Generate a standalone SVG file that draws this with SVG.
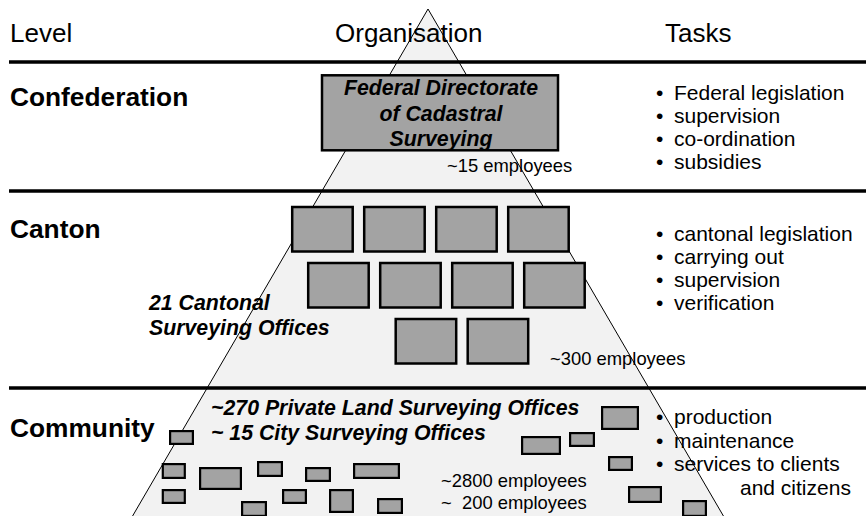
<svg xmlns="http://www.w3.org/2000/svg" width="866" height="516" viewBox="0 0 866 516">
  <style>
    text { font-family: "Liberation Sans", Arial, sans-serif; fill: #000; }
    .head { font-size: 26px; }
    .level { font-size: 26.3px; font-weight: bold; }
    .task { font-size: 21px; }
    .emp { font-size: 18.4px; white-space: pre; }
    .name { font-size: 21.3px; font-weight: bold; font-style: italic; }
    .rule { stroke: #000; stroke-width: 3.5; }
    .office { fill: #a3a3a3; stroke: #000; stroke-width: 2.5; }
    .small { fill: #a3a3a3; stroke: #000; stroke-width: 2.2; }
  </style>

  <rect width="866" height="516" fill="#fff"/>

  <!-- organisation pyramid -->
  <g id="pyramid">
    <polygon points="428,9 132,517 724,517" fill="#f2f2f2" stroke="#000" stroke-width="1"/>
  </g>

  <!-- column headings -->
  <g id="headings">
    <text class="head" x="10" y="42">Level</text>
    <text class="head" x="335" y="42">Organisation</text>
    <text class="head" x="665" y="42">Tasks</text>
  </g>

  <!-- level separators -->
  <g id="separators">
    <line class="rule" x1="9" y1="62" x2="866" y2="62"/>
    <line class="rule" x1="9" y1="191" x2="866" y2="191"/>
    <line class="rule" x1="9" y1="388" x2="866" y2="388"/>
  </g>

  <!-- level: confederation -->
  <g id="confederation">
    <text class="level" x="10" y="106">Confederation</text>
    <g id="federal-directorate">
      <rect class="office" x="322" y="75.3" width="236" height="75"/>
      <text class="name" text-anchor="middle" x="441" y="95">Federal Directorate</text>
      <text class="name" text-anchor="middle" x="441" y="121">of Cadastral</text>
      <text class="name" text-anchor="middle" x="441" y="146">Surveying</text>
    </g>
    <text class="emp" x="447" y="172">~15 employees</text>
    <g id="tasks-confederation">
      <text class="task" x="656" y="100">•</text>
      <text class="task" x="674" y="100">Federal legislation</text>
      <text class="task" x="656" y="123">•</text>
      <text class="task" x="674" y="123">supervision</text>
      <text class="task" x="656" y="146">•</text>
      <text class="task" x="674" y="146">co-ordination</text>
      <text class="task" x="656" y="169">•</text>
      <text class="task" x="674" y="169">subsidies</text>
    </g>
  </g>

  <!-- level: canton -->
  <g id="canton">
    <text class="level" x="10" y="238">Canton</text>
    <g id="cantonal-offices">
      <rect class="office" x="292.2" y="207" width="60.5" height="44.5"/>
      <rect class="office" x="364.2" y="207" width="60.5" height="44.5"/>
      <rect class="office" x="436.2" y="207" width="60.5" height="44.5"/>
      <rect class="office" x="508.2" y="207" width="60.5" height="44.5"/>
      <rect class="office" x="308.2" y="263" width="60.5" height="44.5"/>
      <rect class="office" x="380.2" y="263" width="60.5" height="44.5"/>
      <rect class="office" x="452.2" y="263" width="60.5" height="44.5"/>
      <rect class="office" x="524.2" y="263" width="60.5" height="44.5"/>
      <rect class="office" x="395.7" y="319" width="60.5" height="44.5"/>
      <rect class="office" x="467.7" y="319" width="60.5" height="44.5"/>
    </g>
    <text class="name" x="149" y="310">21 Cantonal</text>
    <text class="name" x="149" y="335">Surveying Offices</text>
    <text class="emp" x="550" y="365">~300 employees</text>
    <g id="tasks-canton">
      <text class="task" x="656" y="241">•</text>
      <text class="task" x="674" y="241">cantonal legislation</text>
      <text class="task" x="656" y="264">•</text>
      <text class="task" x="674" y="264">carrying out</text>
      <text class="task" x="656" y="287">•</text>
      <text class="task" x="674" y="287">supervision</text>
      <text class="task" x="656" y="310">•</text>
      <text class="task" x="674" y="310">verification</text>
    </g>
  </g>

  <!-- level: community -->
  <g id="community">
    <text class="level" x="10" y="437">Community</text>
    <g id="community-offices">
      <rect class="small" x="170.1" y="431.1" width="22.8" height="12.8"/>
      <rect class="small" x="162.8" y="464.1" width="22" height="13.8"/>
      <rect class="small" x="200.1" y="468.1" width="40.8" height="20.8"/>
      <rect class="small" x="258.1" y="462.1" width="23.8" height="13.8"/>
      <rect class="small" x="162.8" y="490.1" width="22" height="12.8"/>
      <rect class="small" x="242.1" y="502.1" width="23.8" height="13.8"/>
      <rect class="small" x="283.1" y="490.1" width="22.8" height="12.8"/>
      <rect class="small" x="306.1" y="468.1" width="23.8" height="12.8"/>
      <rect class="small" x="354.1" y="464.1" width="44.8" height="13.8"/>
      <rect class="small" x="330.1" y="490.1" width="22.8" height="21.8"/>
      <rect class="small" x="378.1" y="499.1" width="23.8" height="13.8"/>
      <rect class="small" x="602.1" y="407.1" width="35.8" height="21.8"/>
      <rect class="small" x="570.1" y="433.1" width="23.8" height="12.8"/>
      <rect class="small" x="522.1" y="437.1" width="37.8" height="16.8"/>
      <rect class="small" x="609.1" y="457.1" width="22.8" height="12.8"/>
      <rect class="small" x="629.1" y="487.1" width="31.8" height="14.8"/>
      <rect class="small" x="683.1" y="501.1" width="22.8" height="14.8"/>
    </g>
    <text class="name" x="211" y="415">~270 Private Land Surveying Offices</text>
    <text class="name" x="211" y="440">~ 15 City Surveying Offices</text>
    <text class="emp" x="441" y="487">~2800 employees</text>
    <text class="emp" x="441" y="509">~  200 employees</text>
    <g id="tasks-community">
      <text class="task" x="656" y="424">•</text>
      <text class="task" x="674" y="424">production</text>
      <text class="task" x="656" y="448">•</text>
      <text class="task" x="674" y="448">maintenance</text>
      <text class="task" x="656" y="471">•</text>
      <text class="task" x="674" y="471">services to clients</text>
      <text class="task" x="740" y="495">and citizens</text>
    </g>
  </g>
</svg>
